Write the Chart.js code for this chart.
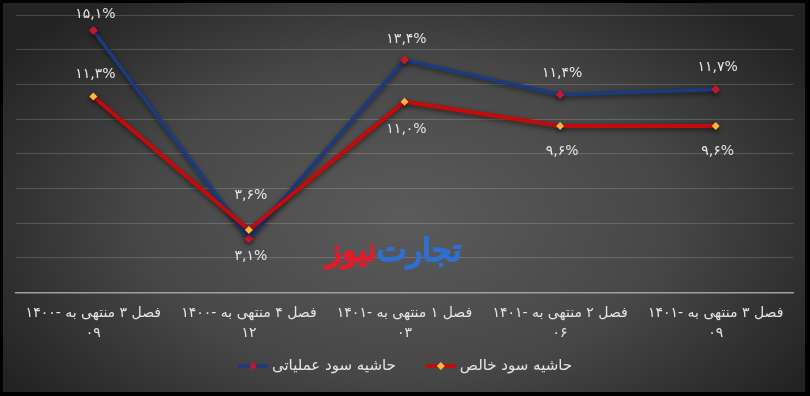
<!DOCTYPE html>
<html><head><meta charset="utf-8">
<script src="https://cdn.jsdelivr.net/npm/chart.js@4/dist/chart.umd.min.js"></script>
<style>html,body{margin:0;padding:0;background:#000;overflow:hidden}#wrap{width:810px;height:396px}</style>
</head><body><div id="wrap"><canvas id="c" width="810" height="396"></canvas></div>
<script>
// ---- data ----
const categories = [
  ["فصل ۳ منتهی به -۱۴۰۰", "۰۹"],
  ["فصل ۴ منتهی به -۱۴۰۰", "۱۲"],
  ["فصل ۱ منتهی به -۱۴۰۱", "۰۳"],
  ["فصل ۲ منتهی به -۱۴۰۱", "۰۶"],
  ["فصل ۳ منتهی به -۱۴۰۱", "۰۹"]
];
const operatingMargin = [15.1, 3.1, 13.4, 11.4, 11.7];
const netMargin = [11.3, 3.6, 11.0, 9.6, 9.6];
const seriesNames = ["حاشیه سود عملیاتی", "حاشیه سود خالص"];
const yMin = 0, yMax = 16, yStep = 2;
const watermarkParts = ["تجارت", "نیوز"];

// ---- helpers ----
const FONT = "'DejaVu Sans', sans-serif";
const BLUE = "#1b3a82", BLUE_MARK = "#c3172b", RED = "#c40a0a", RED_MARK = "#ffb43c";
function toFa(v) {
  const d = "۰۱۲۳۴۵۶۷۸۹";
  return v.toFixed(1).replace(/\d/g, c => d[+c]).replace(".", ",") + "%";
}

const bgPlugin = {
  id: "bg",
  beforeDraw(chart) {
    const ctx = chart.ctx, W = chart.width, H = chart.height;
    ctx.save();
    ctx.fillStyle = "#000"; ctx.fillRect(0, 0, W, H);
    ctx.beginPath(); ctx.rect(3, 3, W - 8, H - 7); ctx.clip();
    ctx.translate(W / 2, H * 0.55); ctx.scale(1, 0.6);
    const g = ctx.createRadialGradient(0, 0, 0, 0, 0, 480);
    g.addColorStop(0, "#5b5b5b");
    g.addColorStop(0.55, "#474747");
    g.addColorStop(1, "#232323");
    ctx.fillStyle = g;
    ctx.fillRect(-W, -H * 2, W * 2, H * 4);
    ctx.restore();
  }
};

const shadowPlugin = {
  id: "shadow",
  beforeDatasetDraw(chart) { const c = chart.ctx; c.save(); c.shadowColor = "rgba(0,0,0,0.55)"; c.shadowBlur = 5; c.shadowOffsetY = 2; },
  afterDatasetDraw(chart) { chart.ctx.restore(); }
};

const watermarkPlugin = {
  id: "watermark",
  beforeDatasetsDraw(chart) {
    const ctx = chart.ctx;
    const x = chart.scales.x;
    const y = chart.scales.y;
    ctx.save();
    ctx.font = "32px " + FONT;
    ctx.textBaseline = "middle";
    ctx.lineJoin = "round";
    ctx.lineWidth = 2;
    const w1 = ctx.measureText(watermarkParts[0]).width;
    const w2 = ctx.measureText(watermarkParts[1]).width;
    const cx = (x.getPixelForValue(1) + x.getPixelForValue(2)) / 2 + 67;
    const cy = y.getPixelForValue(2.3);
    const left = cx - (w1 + w2) / 2;
    ctx.textAlign = "left";
    ctx.fillStyle = ctx.strokeStyle = "#e21b2a";
    ctx.fillText(watermarkParts[1], left, cy);
    ctx.strokeText(watermarkParts[1], left, cy);
    ctx.fillStyle = ctx.strokeStyle = "#2f6fd1";
    ctx.fillText(watermarkParts[0], left + w2, cy);
    ctx.strokeText(watermarkParts[0], left + w2, cy);
    ctx.restore();
  }
};

const labelPlugin = {
  id: "valueLabels",
  afterDatasetsDraw(chart, args, opts) {
    const ctx = chart.ctx;
    ctx.save();
    ctx.font = "14px " + FONT;
    ctx.fillStyle = "#e6e6e6";
    ctx.textAlign = "center";
    ctx.textBaseline = "middle";
    chart.data.datasets.forEach((ds, di) => {
      const meta = chart.getDatasetMeta(di);
      const offs = opts.offsets[di];
      meta.data.forEach((pt, i) => {
        ctx.fillText(toFa(ds.data[i]), pt.x + 2, pt.y + offs[i]);
      });
    });
    ctx.restore();
  }
};

const legendPlugin = {
  id: "customLegend",
  afterDraw(chart, args, opts) {
    const ctx = chart.ctx;
    ctx.save();
    ctx.font = "15px " + FONT;
    ctx.textBaseline = "middle";
    ctx.textAlign = "left";
    const items = [
      { text: seriesNames[0], line: BLUE, mark: BLUE_MARK },
      { text: seriesNames[1], line: RED, mark: RED_MARK }
    ];
    const icon = 30, gap = 4, spacing = 30;
    const widths = items.map(it => ctx.measureText(it.text).width);
    const total = items.length * (icon + gap) + widths.reduce((a, b) => a + b, 0) + spacing * (items.length - 1);
    let x = chart.width / 2 - total / 2;
    const y = opts.y;
    items.forEach((it, i) => {
      ctx.strokeStyle = it.line; ctx.lineWidth = 3.5;
      ctx.beginPath(); ctx.moveTo(x, y); ctx.lineTo(x + icon, y); ctx.stroke();
      const r = 4, mx = x + icon / 2;
      ctx.fillStyle = it.mark;
      ctx.beginPath(); ctx.moveTo(mx, y - r); ctx.lineTo(mx + r, y); ctx.lineTo(mx, y + r); ctx.lineTo(mx - r, y); ctx.closePath(); ctx.fill();
      ctx.fillStyle = "#e6e6e6";
      ctx.fillText(it.text, x + icon + gap, y);
      x += icon + gap + widths[i] + spacing;
    });
    ctx.restore();
  }
};

new Chart(document.getElementById("c"), {
  type: "line",
  data: {
    labels: categories,
    datasets: [
      {
        label: seriesNames[0], data: operatingMargin,
        borderColor: BLUE, borderWidth: 3.5, tension: 0,
        pointStyle: "rectRot", pointRadius: 4.5, pointBorderWidth: 0,
        pointBackgroundColor: BLUE_MARK, order: 1
      },
      {
        label: seriesNames[1], data: netMargin,
        borderColor: RED, borderWidth: 4, tension: 0,
        pointStyle: "rectRot", pointRadius: 4, pointBorderWidth: 0,
        pointBackgroundColor: RED_MARK, order: 0
      }
    ]
  },
  options: {
    responsive: false, animation: false, devicePixelRatio: 1,
    layout: { padding: { left: 15.5, right: 16.5, top: 15, bottom: 41 } },
    scales: {
      x: {
        offset: true,
        grid: { display: false, drawTicks: false },
        border: { display: true, color: "#a0a0a0", width: 1.5 },
        ticks: { color: "#e6e6e6", font: { family: FONT, size: 14, lineHeight: 1.45 }, padding: 11, maxRotation: 0, autoSkip: false }
      },
      y: {
        min: yMin, max: yMax,
        ticks: { display: false, stepSize: yStep },
        grid: { color: "rgba(255,255,255,0.17)", lineWidth: 1, drawTicks: false },
        border: { display: false },
        afterFit(s) { s.width = 0; }
      }
    },
    plugins: {
      tooltip: { enabled: false },
      legend: { display: false },
      customLegend: { y: 366 },
      valueLabels: { offsets: [[-16, 18, -21, -21, -22], [-22, -35, 28, 25, 25]] }
    }
  },
  plugins: [bgPlugin, shadowPlugin, watermarkPlugin, labelPlugin, legendPlugin]
});
</script></body></html>
